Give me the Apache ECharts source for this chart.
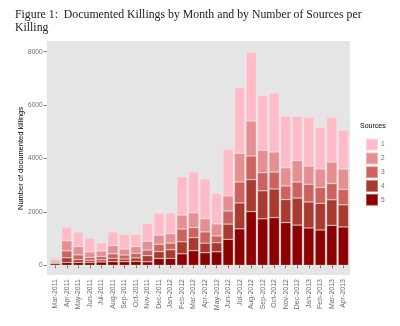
<!DOCTYPE html>
<html>
<head>
<meta charset="utf-8">
<script src="https://cdn.jsdelivr.net/npm/echarts@6/dist/echarts.min.js"></script>
<style>
html,body{margin:0;padding:0;background:#fff;}
#c{width:400px;height:326px;}
</style>
</head>
<body>
<div id="c"></div>
<script>
var months = ['Mar-2011','Apr-2011','May-2011','Jun-2011','Jul-2011','Aug-2011','Sep-2011','Oct-2011','Nov-2011','Dec-2011','Jan-2012','Feb-2012','Mar-2012','Apr-2012','May-2012','Jun-2012','Jul-2012','Aug-2012','Sep-2012','Oct-2012','Nov-2012','Dec-2012','Jan-2013','Feb-2013','Mar-2013','Apr-2013'];
var sources5 = [60,110,110,105,125,135,135,150,130,255,262,430,545,470,505,973,1365,2009,1740,1785,1598,1505,1398,1323,1498,1435];
var sources4 = [40,170,100,80,80,125,100,125,230,260,320,450,490,360,340,570,970,1198,1050,1073,861,1015,973,998,955,830];
var sources3 = [50,260,180,115,130,170,150,175,210,270,250,480,380,420,255,490,785,887,680,636,511,600,665,599,605,580];
var sources2 = [50,380,310,200,200,310,225,250,330,345,350,520,550,500,450,565,1073,1310,837,749,680,800,680,687,811,760];
var sources1 = [75,510,550,520,310,510,550,460,670,830,785,1440,1535,1485,1148,1750,2471,2586,2046,2209,1940,1672,1822,1572,1680,1455];
var yTicks = [0,2000,4000,6000,8000];
var sourceNames = ['1','2','3','4','5'];
var colors = {'1':'#ffbcc8','2':'#e58f93','3':'#cc635f','4':'#a93a30','5':'#8b0000'};

var chart = echarts.init(document.getElementById('c'), null, {renderer:'canvas'});
var font = 'Liberation Sans, Arial, sans-serif';
var greyTxt = '#6e6e6e';

function mk(name, data){
  return {
    name: name, type:'bar', stack:'k', data:data,
    barCategoryGap:'10%',
    itemStyle:{color:colors[name], borderColor:'rgba(255,255,255,0.35)', borderWidth:0.6},
    emphasis:{disabled:true}
  };
}

chart.setOption({
  animation:false,
  title:{
    text:'Figure 1:  Documented Killings by Month and by Number of Sources per\nKilling',
    left:10, top:4,
    textStyle:{fontFamily:'Liberation Serif, Times New Roman, serif', fontSize:11.8, fontWeight:'normal', color:'#222', lineHeight:12.5}
  },
  graphic:[
    {type:'rect', shape:{x:46.7, y:41, width:303.3, height:234}, style:{fill:'#e5e5e5'}, z:-10, silent:true},
    {type:'text', left:360, top:123, style:{text:'Sources', fontFamily:font, fontSize:7, fill:'#000'}}
  ],
  grid:{left:49.5, right:50.9, top:51.7, bottom:60.7},
  legend:{
    orient:'vertical', left:360, top:132.7,
    itemWidth:12, itemHeight:11.8, itemGap:0,
    icon:'rect',
    data:sourceNames,
    textStyle:{fontFamily:font, fontSize:6.6, color:greyTxt, padding:[0,0,0,-2]},
    selectedMode:false
  },
  xAxis:{
    type:'category', data:months, offset:9.7,
    axisLine:{show:false},
    axisTick:{show:true, alignWithLabel:true, length:3, lineStyle:{color:'#777'}},
    axisLabel:{rotate:90, fontFamily:font, fontSize:7, color:greyTxt, margin:4, interval:0},
    splitLine:{show:false}
  },
  yAxis:{
    type:'value', min:yTicks[0], max:yTicks[yTicks.length-1], interval:2000, offset:2.8,
    name:'Number of documented killings', nameLocation:'middle', nameRotate:90, nameGap:22,
    nameMoveOverlap:false,
    nameTextStyle:{fontFamily:font, fontSize:7.5, color:'#000'},
    axisLine:{show:false},
    axisTick:{show:true, length:3, lineStyle:{color:'#777'}},
    axisLabel:{fontFamily:font, fontSize:6.6, color:greyTxt, margin:4, formatter:function(v){return String(v);}},
    splitLine:{show:false}
  },
  series:[
    mk('5', sources5), mk('4', sources4), mk('3', sources3), mk('2', sources2), mk('1', sources1)
  ]
});
</script>
</body>
</html>
